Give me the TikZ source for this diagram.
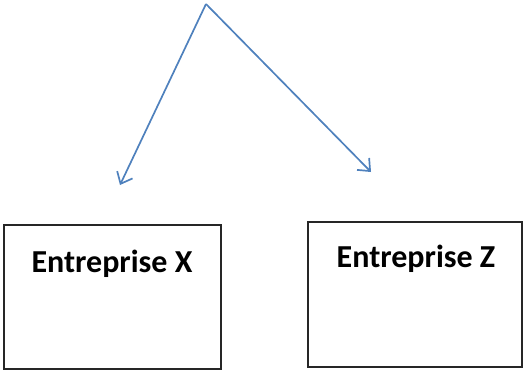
\documentclass[tikz,border=0pt]{standalone}
\usepackage{fontspec}
\setmainfont{Carlito}
\usetikzlibrary{arrows.meta}
\tikzset{
  boxstyle/.style={draw=black!85, line width=1.3pt},
  labelstyle/.style={font=\fontsize{32}{38}\selectfont\bfseries, anchor=base, inner sep=0pt},
  arrowstyle/.style={draw={rgb,255:red,79;green,129;blue,189}, line width=1.7pt, -{Straight Barb[length=10pt,width=17pt,line width=1.7pt]}}
}
\begin{document}
\begin{tikzpicture}[x=1pt,y=-1pt]
\useasboundingbox (0,0) rectangle (525,372);
\draw[boxstyle] (4,225) rectangle (221,369);
\draw[boxstyle] (308,222) rectangle (522,367);
\node[labelstyle] (tx) at (112,272) {Entreprise X};
\node[labelstyle] (tz) at (416,267) {Entreprise Z};
\coordinate (apex) at (206,4);
\coordinate (endx) at (120,185);
\coordinate (endz) at (371,172);
\draw[arrowstyle] (apex) -- (endx);
\draw[arrowstyle] (apex) -- (endz);
\end{tikzpicture}
\end{document}
